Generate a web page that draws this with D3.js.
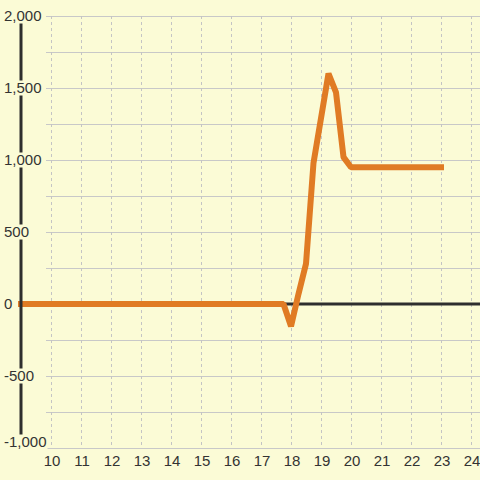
<html>
<head><meta charset="utf-8"></head>
<script src='https://d3js.org/d3.v7.min.js'></script>
<style>
body {margin: 0; background: #fbfbd6;}
text {font-family: 'Liberation Sans', Arial, sans-serif; font-size: 15px; fill: #333;}
</style>
<body>
<svg width=480 height=480></svg>
<script>
// series values
var xs = [9, 17.75, 18, 18.25, 18.5, 18.75, 19, 19.25, 19.5, 19.75, 20, 23];
var ys = [0, 0, -155, 70, 280, 980, 1290, 1600, 1470, 1020, 950, 950];
var xTicks = [10, 11, 12, 13, 14, 15, 16, 17, 18, 19, 20, 21, 22, 23, 24];
var yTicks = [-1000, -500, 0, 500, 1000, 1500, 2000];
var yGrid = d3.range(-1000, 2001, 250);

var x = d3.scaleLinear([9, 24.3], [21, 480]);
var y = d3.scaleLinear([-1000, 2000], [448, 16]);
var svg = d3.select('svg');
var left = 46;

svg.append('rect').attr('width', 480).attr('height', 480).attr('fill', '#fbfbd6');

// horizontal grid
svg.append('g').selectAll('line').data(yGrid).enter().append('line')
  .attr('x1', left).attr('x2', 480)
  .attr('y1', function(d) {return y(d) + 0.5;})
  .attr('y2', function(d) {return y(d) + 0.5;})
  .attr('stroke', '#c8c8c8').attr('stroke-width', 1);

// vertical dashed grid
svg.append('g').selectAll('line').data(xTicks).enter().append('line')
  .attr('x1', function(d) {return Math.round(x(d)) + 0.5;})
  .attr('x2', function(d) {return Math.round(x(d)) + 0.5;})
  .attr('y1', y(2000)).attr('y2', y(-1000))
  .attr('stroke', '#c4c4c4').attr('stroke-width', 1).attr('stroke-dasharray', '3,3');

// zero line
svg.append('line')
  .attr('x1', x(9)).attr('x2', 480)
  .attr('y1', y(0)).attr('y2', y(0))
  .attr('stroke', '#2e2e2e').attr('stroke-width', 3);

// series
var line = d3.line()
  .x(function(d, i) {return x(xs[i]);})
  .y(function(d) {return y(d);});
svg.append('path').datum(ys)
  .attr('d', line)
  .attr('fill', 'none')
  .attr('stroke', '#e07b24')
  .attr('stroke-width', 6)
  .attr('stroke-linecap', 'square')
  .attr('stroke-linejoin', 'bevel');

// y axis line
svg.append('line')
  .attr('x1', x(9)).attr('x2', x(9))
  .attr('y1', y(2000)).attr('y2', y(-1000))
  .attr('stroke', '#2e2e2e').attr('stroke-width', 3);

// y labels with background
var fmt = function(d) {return d3.format(',')(d).replace('\u2212', '-');};
var yl = svg.append('g').selectAll('g').data(yTicks).enter().append('g')
  .attr('transform', function(d) {return 'translate(4,' + Math.min(y(d), 442) + ')';});
yl.append('text')
  .attr('dy', '0.35em')
  .text(function(d) {return fmt(d);});
yl.each(function() {
  var g = d3.select(this);
  var b = g.select('text').node().getBBox();
  g.insert('rect', 'text')
    .attr('x', b.x - 1).attr('y', -7.5)
    .attr('width', b.width + 2).attr('height', 15)
    .attr('fill', '#fbfbd6');
});

// x labels
svg.append('g').selectAll('text').data(xTicks).enter().append('text')
  .attr('x', function(d) {return x(d) + 1;})
  .attr('y', 461)
  .attr('dy', '0.35em')
  .attr('text-anchor', 'middle')
  .text(function(d) {return d;});
</script>
</body>
</html>
